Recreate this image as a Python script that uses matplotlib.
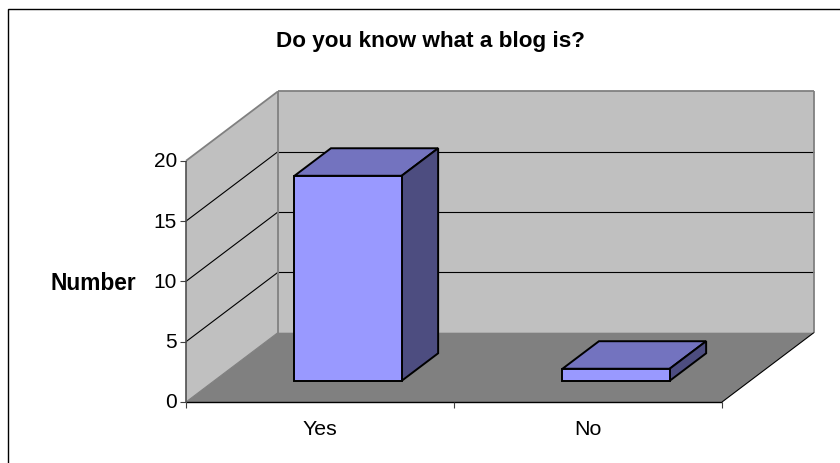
import matplotlib
matplotlib.use("Agg")
import matplotlib.pyplot as plt
from matplotlib.patches import Polygon

title = "Do you know what a blog is?"
y_label = "Number"
categories = ["Yes", "No"]
values = [17, 1]
y_ticks = [0, 5, 10, 15, 20]

plt.rcParams["font.family"] = ["Liberation Sans", "DejaVu Sans"]

# Oblique projection of the chart box (pixels in the 840x463 picture)
X0, Y0 = 186.0, 402.0
CAT_W = 268.0
UNIT_H = 12.06
DEPTH_DX, DEPTH_DY = 91.8, -69.3
BAR_W = 0.40
BAR_D0, BAR_D1 = 0.306, 0.703


def proj(cat, val, depth):
    return (X0 + cat * CAT_W + depth * DEPTH_DX,
            Y0 - val * UNIT_H + depth * DEPTH_DY)


fig = plt.figure(figsize=(8.4, 4.63), dpi=100)
ax = fig.add_axes([0, 0, 1, 1])
ax.set_xlim(0, 840)
ax.set_ylim(463, 0)
ax.axis("off")

GREY = "#808080"
WALL = "#c0c0c0"
ncat = len(categories)
ymax = max(y_ticks)


def face(points, fc, ec="none", lw=0, z=1):
    ax.add_patch(Polygon(points, closed=True, fc=fc, ec=ec, lw=lw,
                         joinstyle="miter", zorder=z))


def line(a, b, color="black", lw=0.8, z=3):
    ax.plot([a[0], b[0]], [a[1], b[1]], color=color, lw=lw, zorder=z,
            solid_capstyle="butt")


# Outer frame: only the left and top edges are visible
ax.plot([8, 8, 840], [463, 9, 9], color="black", lw=1.0, zorder=1,
        solid_joinstyle="miter")

# Walls and floor
face([proj(0, 0, 1), proj(ncat, 0, 1), proj(ncat, ymax, 1), proj(0, ymax, 1)], WALL)
face([proj(0, 0, 0), proj(0, 0, 1), proj(0, ymax, 1), proj(0, ymax, 0)], WALL)
face([proj(0, 0, 0), proj(ncat, 0, 0), proj(ncat, 0, 1), proj(0, 0, 1)], GREY)

# Gridlines on both walls, then the wall edges
for t in y_ticks[1:-1]:
    line(proj(0, t, 0), proj(0, t, 1), lw=0.8)
    line(proj(0, t, 1), proj(ncat, t, 1), lw=0.8)
line(proj(0, ymax, 0), proj(0, ymax, 1), GREY, 1.3)
line(proj(0, ymax, 1), proj(ncat, ymax, 1), GREY, 1.3)
line(proj(ncat, ymax, 1), proj(ncat, 0, 1), GREY, 1.3)
line(proj(0, ymax, 1), proj(0, 0, 1), GREY, 1.3)
line(proj(0, 0, 0), proj(0, 0, 1), GREY, 0.8)

# Floor front and right edges, axes
line(proj(ncat, 0, 0), proj(ncat, 0, 1), "black", 0.8)
line(proj(0, 0, 0), proj(ncat, 0, 0), "black", 1.0, z=4)
line(proj(0, 0, 0), proj(0, ymax, 0), "#505050", 1.2, z=4)

# Value ticks and labels
for t in y_ticks:
    x, y = proj(0, t, 0)
    line((x - 6, y), (x, y), "#404040", 0.8, z=4)
    ax.text(x - 9, y - 1, str(t), ha="right", va="center_baseline",
            fontsize=15.0, color="black")

# Category ticks and labels
for i in range(ncat + 1):
    x, y = proj(i, 0, 0)
    line((x, y), (x, y + 6), "#404040", 0.8, z=4)
for i, c in enumerate(categories):
    x, y = proj(i + 0.5, 0, 0)
    ax.text(x, y + 25.5, c, ha="center", va="center_baseline",
            fontsize=15.4, color="black")

# Bars
for i, v in enumerate(values):
    lo, hi = i + 0.5 - BAR_W / 2, i + 0.5 + BAR_W / 2
    face([proj(lo, v, BAR_D0), proj(hi, v, BAR_D0), proj(hi, v, BAR_D1),
          proj(lo, v, BAR_D1)], "#7373bf", "black", 1.4, z=5)
    face([proj(hi, 0, BAR_D0), proj(hi, 0, BAR_D1), proj(hi, v, BAR_D1),
          proj(hi, v, BAR_D0)], "#4d4d80", "black", 1.4, z=5)
    face([proj(lo, 0, BAR_D0), proj(hi, 0, BAR_D0), proj(hi, v, BAR_D0),
          proj(lo, v, BAR_D0)], "#9999ff", "black", 1.4, z=6)

# Title and axis label
ax.text(430, 38.5, title, ha="center", va="center_baseline", fontsize=16.2,
        fontweight="bold", color="black")
ax.text(93, 280.5, y_label, ha="center", va="center_baseline", fontsize=16.4,
        fontweight="bold", color="black")

fig.savefig("out.png", dpi=100)
